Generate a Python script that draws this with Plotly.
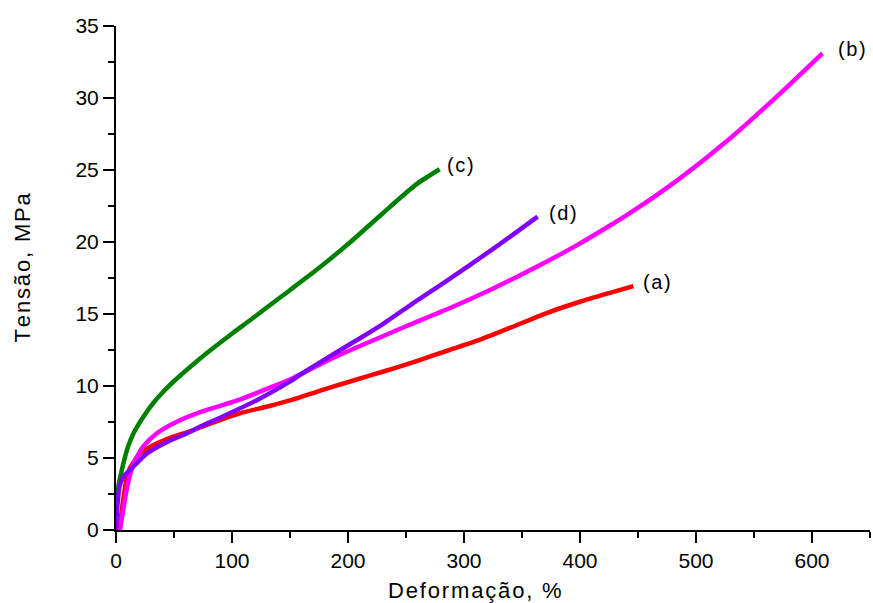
import plotly.graph_objects as go

# Curve (a) - red
a_x = [3, 6, 9, 12, 20.7, 35, 50, 63.7, 80, 106.7, 129.7, 149.8, 187, 220, 244.5, 261.7, 287.5, 313.3, 340, 370.7, 400, 425, 446]
a_y = [0, 2.0, 3.5, 4.3, 5.3, 6.0, 6.5, 6.85, 7.35, 8.1, 8.56, 9.0, 9.95, 10.75, 11.35, 11.8, 12.5, 13.2, 14.05, 15.05, 15.85, 16.45, 16.94]

# Curve (b) - magenta
b_x = [3.4, 6, 9.2, 12, 15, 23.5, 35, 52, 75, 106.7, 130, 150, 187, 224, 250, 287.5, 322, 356, 399, 428, 442, 485, 528, 571, 609]
b_y = [0, 1.3, 2.8, 3.8, 4.6, 5.8, 6.7, 7.5, 8.25, 9.05, 9.8, 10.45, 11.95, 13.25, 14.15, 15.4, 16.65, 18.0, 19.85, 21.25, 21.95, 24.35, 27.1, 30.2, 33.1]

# Curve (c) - green
c_x = [0, 2, 6.3, 10, 15, 20.7, 26.4, 32, 40.7, 50.8, 72.3, 101, 115.3, 130, 144, 172.7, 201.4, 230, 258.8, 279]
c_y = [1.6, 3.0, 4.6, 5.7, 6.7, 7.5, 8.2, 8.8, 9.6, 10.4, 11.9, 13.7, 14.55, 15.45, 16.3, 18.05, 19.95, 22.0, 24.0, 25.05]

# Curve (d) - purple
d_x = [0, 1, 3, 6.3, 15, 26.4, 43.6, 63.7, 72.3, 92.4, 121, 149.8, 160, 187, 210, 230, 258.8, 287, 330, 363.5]
d_y = [0, 1.5, 3.0, 3.7, 4.4, 5.3, 6.1, 6.8, 7.17, 7.9, 9.0, 10.3, 10.85, 12.2, 13.3, 14.3, 15.9, 17.4, 19.8, 21.76]

series = [
    ("(a)", a_x, a_y, "#FF0000"),
    ("(b)", b_x, b_y, "#FF00FF"),
    ("(c)", c_x, c_y, "#008000"),
    ("(d)", d_x, d_y, "#8000FF"),
]
label_shift = {"(a)": 8, "(b)": 14, "(c)": 5, "(d)": 9}

FONT = "Liberation Sans, Arial, sans-serif"
HS = "\u200a"

def spaced(s):
    return HS.join(list(s))

fig = go.Figure()
for name, xs, ys, col in series:
    fig.add_trace(go.Scatter(x=xs, y=ys, mode="lines", name=name,
                             line=dict(color=col, width=4.5, shape="spline", smoothing=0.6),
                             showlegend=False))

# curve labels placed just right of each curve end
for name, xs, ys, col in series:
    fig.add_annotation(x=xs[-1], y=ys[-1], text=spaced(name), showarrow=False,
                       xanchor="left", yanchor="middle", xshift=label_shift[name], yshift=4,
                       font=dict(family=FONT, size=20, color="black"))

axis_common = dict(
    showline=True, linecolor="black", linewidth=2,
    ticks="outside", ticklen=11, tickwidth=2, tickcolor="black",
    showgrid=False, zeroline=False,
    tickfont=dict(family=FONT, size=21, color="black"),
)

fig.update_xaxes(range=[0, 650], dtick=100, tick0=0,
                 minor=dict(ticks="outside", ticklen=6, tickwidth=2, tickcolor="black", dtick=50),
                 **axis_common)
fig.update_yaxes(range=[0, 35], dtick=5, tick0=0,
                 minor=dict(ticks="outside", ticklen=6, tickwidth=2, tickcolor="black", dtick=2.5),
                 **axis_common)

fig.add_annotation(xref="paper", yref="paper", x=-0.124, y=0.52,
                   text=spaced("Tensão, MPa"), textangle=-90,
                   showarrow=False, xanchor="center", yanchor="middle",
                   font=dict(family=FONT, size=22, color="black"))

fig.add_annotation(xref="paper", yref="paper", x=0.476, y=-0.121,
                   text=spaced("Deformação, %"),
                   showarrow=False, xanchor="center", yanchor="middle",
                   font=dict(family=FONT, size=22, color="black"))

fig.update_layout(
    width=873, height=603,
    margin=dict(l=116, r=3, t=26, b=73),
    plot_bgcolor="white", paper_bgcolor="white",
)

fig.write_html("out.html", config={"displayModeBar": False},
               post_script="document.body.style.margin='0';")
